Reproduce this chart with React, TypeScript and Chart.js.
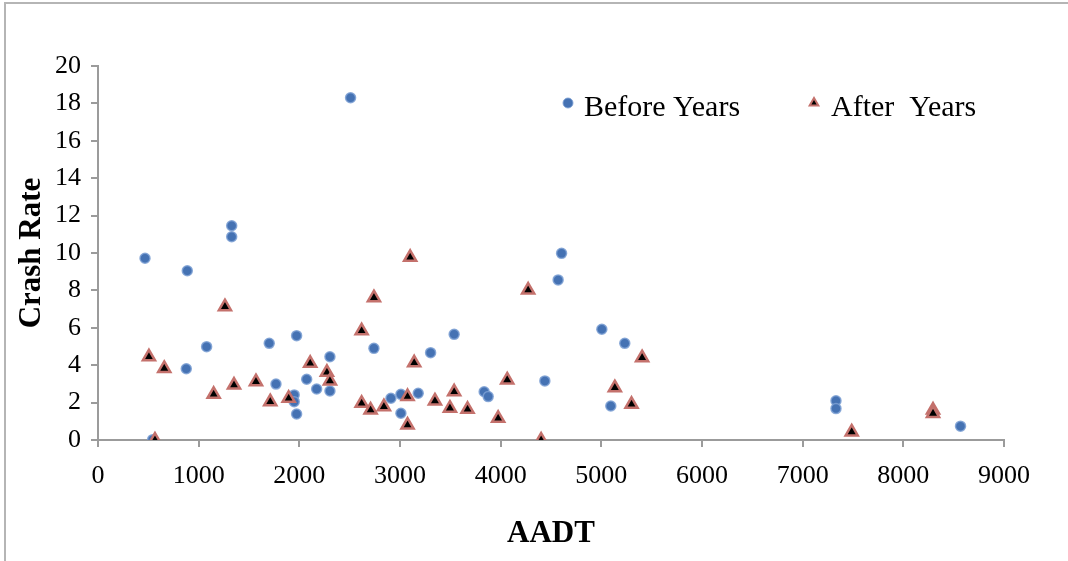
import React, { useRef, useEffect } from 'react';
import { Chart, registerables } from 'chart.js';

Chart.register(...registerables);

// AADT / crash rate pairs
const beforeAadt = [467, 543, 887, 877, 1079, 1328, 1328, 1701, 1768, 1973, 1949, 1949, 1973, 2073, 2172, 2304, 2304, 2509, 2741, 2910, 3009, 3009, 3181, 3304, 3538, 3836, 3876, 4439, 4605, 4571, 5005, 5233, 5094, 7331, 7331, 8568];
const beforeRate = [9.72, 0.02, 9.05, 3.81, 4.99, 11.46, 10.87, 5.17, 2.99, 5.58, 2.41, 2.05, 1.39, 3.25, 2.73, 4.45, 2.62, 18.3, 4.9, 2.23, 2.44, 1.43, 2.5, 4.67, 5.65, 2.58, 2.32, 3.16, 9.98, 8.56, 5.92, 5.17, 1.82, 2.1, 1.68, 0.74];

const afterAadt = [506, 658, 566, 1261, 1149, 1351, 1569, 1711, 1894, 2108, 2274, 2304, 2741, 2619, 2619, 2708, 2840, 3101, 3075, 3075, 3141, 3347, 3496, 3538, 3671, 3975, 4065, 4273, 4402, 5134, 5300, 5405, 7487, 8295, 8295];
const afterRate = [4.45, 3.83, 0.0, 7.13, 2.44, 2.94, 3.12, 2.05, 2.23, 4.1, 3.62, 3.16, 7.61, 5.84, 1.96, 1.6, 1.78, 9.77, 2.32, 0.8, 4.13, 2.09, 1.7, 2.58, 1.64, 1.16, 3.21, 8.02, 0.0, 2.8, 1.91, 4.4, 0.43, 1.6, 1.42];

const seriesNames = ['Before Years', 'After  Years'];
const xTitle = 'AADT';
const yTitle = 'Crash Rate';

const BLUE = '#4572b3';
const BLUE_EDGE = 'rgba(125,160,212,0.85)';
const TRI_EDGE = '#c4716c';
const AXIS = '#9b9b9b';
const SERIF = "'Liberation Serif', 'Times New Roman', serif";

// legend drawn inside the plot area, top right, like the original
const legendPlugin = {
  id: 'insideLegend',
  afterDraw(chart: any) {
    const { ctx, chartArea } = chart;
    const y = chartArea.top + 37;
    ctx.save();
    ctx.font = `30px ${SERIF}`;
    ctx.fillStyle = '#000';
    ctx.textBaseline = 'middle';

    // circle
    let x = chartArea.right - 436;
    ctx.beginPath();
    ctx.arc(x, y, 5, 0, Math.PI * 2);
    ctx.fillStyle = BLUE;
    ctx.fill();
    ctx.lineWidth = 1;
    ctx.strokeStyle = BLUE_EDGE;
    ctx.stroke();
    ctx.fillStyle = '#000';
    ctx.fillText(seriesNames[0], x + 16, y + 5);

    // triangle
    x = chartArea.right - 190;
    const r = 5;
    ctx.beginPath();
    ctx.moveTo(x, y - r);
    ctx.lineTo(x + r * 0.866, y + r / 2);
    ctx.lineTo(x - r * 0.866, y + r / 2);
    ctx.closePath();
    ctx.fillStyle = '#000';
    ctx.fill();
    ctx.lineWidth = 2;
    ctx.strokeStyle = TRI_EDGE;
    ctx.stroke();
    ctx.fillStyle = '#000';
    ctx.fillText(seriesNames[1], x + 17, y + 5);
    ctx.restore();
  },
};

const App = () => {
  const canvasRef = useRef<any>(null);
  const chartRef = useRef<any>(null);

  useEffect(() => {
    if (canvasRef.current) {
      const ctx = canvasRef.current.getContext('2d');

      if (chartRef.current) {
        chartRef.current.destroy();
      }

      chartRef.current = new Chart(ctx, {
        type: 'scatter',
        data: {
          datasets: [
            {
              label: seriesNames[0],
              data: beforeAadt.map((x, i) => ({ x, y: beforeRate[i] })),
              backgroundColor: BLUE,
              borderColor: BLUE_EDGE,
              borderWidth: 1.5,
              pointRadius: 5,
              pointStyle: 'circle',
              order: 1,
            },
            {
              label: seriesNames[1],
              data: afterAadt.map((x, i) => ({ x, y: afterRate[i] })),
              backgroundColor: '#000',
              borderColor: TRI_EDGE,
              borderWidth: 2.5,
              pointRadius: 7,
              pointStyle: 'triangle',
              order: 0,
            },
          ],
        },
        options: {
          animation: false,
          responsive: true,
          maintainAspectRatio: false,
          layout: { padding: { top: 66, right: 64, left: 0, bottom: 0 } },
          plugins: {
            legend: { display: false },
            tooltip: { enabled: false },
          },
          scales: {
            x: {
              type: 'linear',
              min: 0,
              max: 9000,
              afterFit: (scale: any) => { scale.height = 121; },
              ticks: {
                stepSize: 1000,
                color: '#000',
                padding: 14,
                maxRotation: 0,
                font: { family: SERIF, size: 26 },
                callback: (v: any) => String(v),
              },
              grid: { drawOnChartArea: false, drawTicks: true, tickLength: 7, color: AXIS, lineWidth: 2 },
              border: { color: AXIS, width: 2 },
              title: {
                display: true,
                text: xTitle,
                color: '#000',
                padding: { top: 0, bottom: 8 },
                font: { family: SERIF, size: 31, weight: 'bold' },
              },
            },
            y: {
              min: 0,
              max: 20,
              afterFit: (scale: any) => { scale.width = 98; },
              ticks: {
                stepSize: 2,
                color: '#000',
                padding: 10,
                font: { family: SERIF, size: 26 },
              },
              grid: { drawOnChartArea: false, drawTicks: true, tickLength: 7, color: AXIS, lineWidth: 2 },
              border: { color: AXIS, width: 2 },
              title: {
                display: true,
                text: yTitle,
                color: '#000',
                padding: { top: 13, bottom: 0 },
                font: { family: SERIF, size: 31, weight: 'bold' },
              },
            },
          },
        },
        plugins: [legendPlugin],
      });
    }

    return () => {
      if (chartRef.current) {
        chartRef.current.destroy();
      }
    };
  }, []);

  return (
    <div style={{ position: 'absolute', left: 0, top: 0, width: 1068, height: 561, background: '#fff' }}>
      <div
        style={{
          position: 'absolute',
          left: 4,
          top: 2,
          right: 0,
          bottom: 0,
          borderTop: '2px solid #b5b5b5',
          borderLeft: '2px solid #b5b5b5',
        }}
      />
      <canvas ref={canvasRef} />
    </div>
  );
};

export default App;
